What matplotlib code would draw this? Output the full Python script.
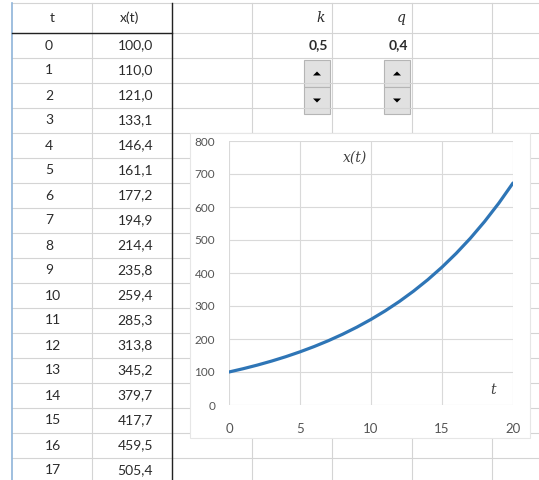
import matplotlib
matplotlib.use("Agg")
import matplotlib.pyplot as plt
from matplotlib.patches import Rectangle, Polygon

# table data (t, x(t)) shown in the sheet
t_table = [0, 1, 2, 3, 4, 5, 6, 7, 8, 9, 10, 11, 12, 13, 14, 15, 16, 17]
x_table = [100.0, 110.0, 121.0, 133.1, 146.4, 161.1, 177.2, 194.9, 214.4,
           235.8, 259.4, 285.3, 313.8, 345.2, 379.7, 417.7, 459.5, 505.4]
# curve on the chart runs to t=20
t_curve = [0, 1, 2, 3, 4, 5, 6, 7, 8, 9, 10, 11, 12, 13, 14, 15, 16, 17, 18, 19, 20]
x_curve = x_table + [556.0, 611.6, 672.7]
params = ["k", "q"]
param_vals = [0.5, 0.4]
x_ticks = [0, 5, 10, 15, 20]
y_ticks = [0, 100, 200, 300, 400, 500, 600, 700, 800]

W, H = 539, 480
fig = plt.figure(figsize=(W / 100, H / 100), dpi=100)
fig.patch.set_facecolor("white")

sheet = fig.add_axes([0, 0, 1, 1])
sheet.set_xlim(0, W)
sheet.set_ylim(H, 0)
sheet.axis("off")

grid = "#d4d4d4"
txt = "#2b2b2b"
font = "Lato"

col_x = [12, 92, 172, 252, 332, 412, 492]
row0 = 33
rh = 25

# grid lines
for cx in col_x[1:]:
    sheet.plot([cx, cx], [3, H], color=grid, lw=0.8)
for i in range(19):
    y = row0 + i * rh
    sheet.plot([12, W], [y, y], color=grid, lw=0.8)
sheet.plot([12, W], [3, 3], color=grid, lw=0.8)
sheet.plot([12, 12], [3, H], color="#8fb4d9", lw=1.2)
# table borders
sheet.plot([172, 172], [3, H], color="#222222", lw=1.0)
sheet.plot([12, 172], [row0, row0], color="#222222", lw=1.0)

# headers
sheet.text(52, 18, "t", ha="center", va="center", fontsize=10, family=font, color=txt)
sheet.text(130, 18, "x(t)", ha="center", va="center", fontsize=10, family=font, color=txt)

for i, (t, v) in enumerate(zip(t_table, x_table)):
    yc = row0 + i * rh + rh / 2
    sheet.text(45, yc, str(t), ha="left", va="center", fontsize=10, family=font, color=txt)
    sheet.text(153, yc, f"{v:.1f}".replace(".", ","), ha="right", va="center",
               fontsize=10, family=font, color=txt)

# parameters with spinner buttons
param_cx = [318, 398]
for name, val, cx in zip(params, param_vals, param_cx):
    sheet.text(cx + 3, 18, name, ha="center", va="center", fontsize=10,
               family="DejaVu Serif", style="italic", color=txt)
    sheet.text(cx, 45, f"{val:.1f}".replace(".", ","), ha="center", va="center",
               fontsize=10, family=font, weight="bold", color=txt)
    left = cx - 14
    for top, up in [(60, True), (87, False)]:
        sheet.add_patch(Rectangle((left, top), 26, 27, facecolor="#e1e1e1",
                                  edgecolor="#b5b5b5", lw=0.8))
        mx, my = left + 13, top + 13.5
        if up:
            tri = [(mx - 4, my + 2), (mx + 4, my + 2), (mx, my - 2)]
        else:
            tri = [(mx - 4, my - 2), (mx + 4, my - 2), (mx, my + 2)]
        sheet.add_patch(Polygon(tri, closed=True, facecolor="black", edgecolor="none"))

# chart area
sheet.add_patch(Rectangle((190, 133), 340, 305, facecolor="white",
                          edgecolor="#e6e6e6", lw=0.8, zorder=3))

ax = fig.add_axes([229 / W, 1 - 405 / H, (513 - 229) / W, (405 - 141) / H])
ax.set_facecolor("white")
ax.plot(t_curve, x_curve, color="#2e75b6", lw=2.3, solid_capstyle="round", zorder=3)
ax.set_xlim(0, 20)
ax.set_ylim(0, 800)
ax.set_xticks(x_ticks)
ax.set_yticks(y_ticks)
ax.grid(True, color="#d9d9d9", lw=0.8)
for s in ax.spines.values():
    s.set_visible(False)
ax.tick_params(length=0, labelcolor="#555555")
ax.tick_params(axis="y", pad=10, labelsize=8.5)
ax.tick_params(axis="x", pad=13, labelsize=9.5)
for lab in ax.get_xticklabels() + ax.get_yticklabels():
    lab.set_family(font)
ax.text(0.445, 0.935, "x(t)", transform=ax.transAxes, ha="center", va="center",
        fontsize=10, family="DejaVu Serif", style="italic", color="#404040")
ax.text(0.93, 0.03, "t", transform=ax.transAxes, ha="center", va="bottom",
        fontsize=10, family="DejaVu Serif", style="italic", color="#404040")

fig.savefig("out.png", dpi=100)
